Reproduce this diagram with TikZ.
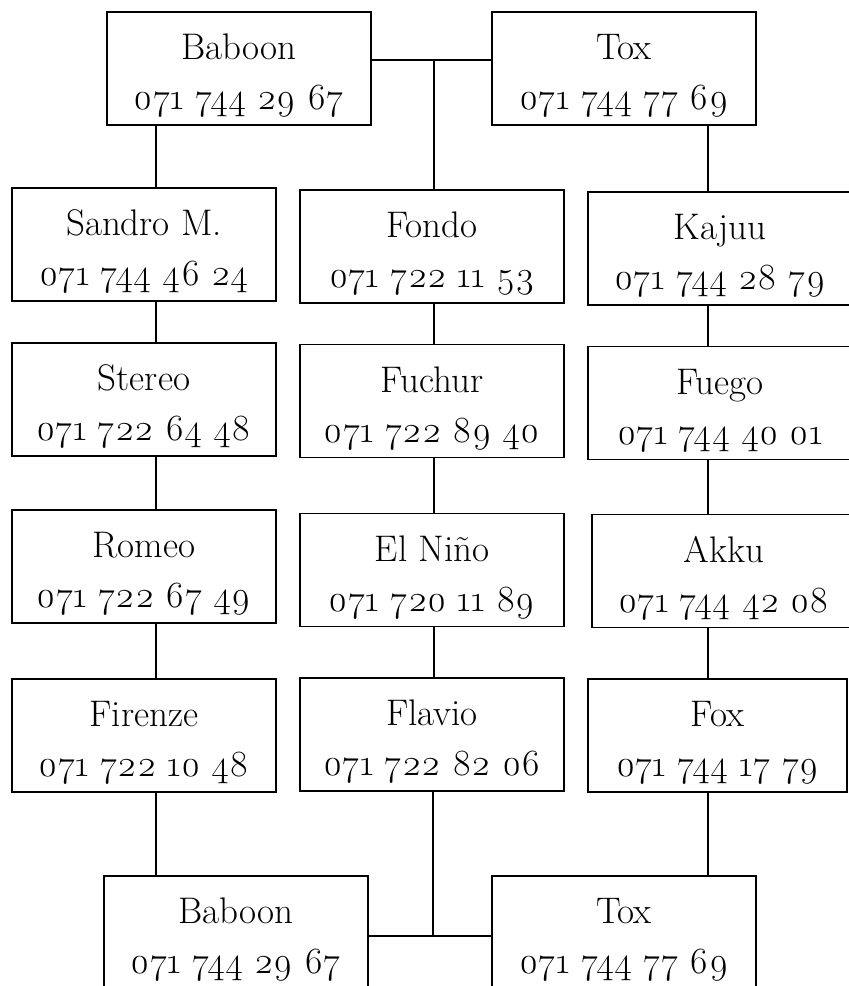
\documentclass[tikz,border=0pt]{standalone}
\usepackage{fontspec}
\setmainfont{Latin Modern Roman}[Numbers=OldStyle]
\newcommand{\phoneentry}[2]{\rule{0pt}{20pt}#1\\#2}
\tikzset{
  phonebox/.style={draw, line width=0.6pt, minimum width=132pt, minimum height=56.5pt,
    inner sep=0pt, align=center, font=\fontsize{18.5}{25}\selectfont},
  wire/.style={line width=0.6pt}
}
\begin{document}
\begin{tikzpicture}[x=0.5pt, y=-0.5pt]
    \useasboundingbox (0,0) rectangle (848,986);
    % top pair
    \node[phonebox] (baboonTop) at (239,68.5) {\phoneentry{Baboon}{071 744 29 67}};
    \node[phonebox] (toxTop) at (624,68.5) {\phoneentry{Tox}{071 744 77 69}};
    % left column
    \node[phonebox] (sandro) at (144,244.5) {\phoneentry{Sandro M.}{071 744 46 24}};
    \node[phonebox] (stereo) at (144,399.5) {\phoneentry{Stereo}{071 722 64 48}};
    \node[phonebox] (romeo) at (144,566.5) {\phoneentry{Romeo}{071 722 67 49}};
    \node[phonebox] (firenze) at (144,735.5) {\phoneentry{Firenze}{071 722 10 48}};
    % middle column
    \node[phonebox] (fondo) at (432,246.5) {\phoneentry{Fondo}{071 722 11 53}};
    \node[phonebox] (fuchur) at (432,401) {\phoneentry{Fuchur}{071 722 89 40}};
    \node[phonebox] (nino) at (432,570) {\phoneentry{El Niño}{071 720 11 89}};
    \node[phonebox] (flavio) at (432,734.5) {\phoneentry{Flavio}{071 722 82 06}};
    % right column
    \node[phonebox] (kajuu) at (720,248.5) {\phoneentry{Kajuu}{071 744 28 79}};
    \node[phonebox] (fuego) at (720,403) {\phoneentry{Fuego}{071 744 40 01}};
    \node[phonebox] (akku) at (724,571) {\phoneentry{Akku}{071 744 42 08}};
    \node[phonebox, minimum width=129.5pt] (fox) at (717.5,735.5) {\phoneentry{Fox}{071 744 17 79}};
    % bottom pair
    \node[phonebox] (baboonBot) at (236,932.5) {\phoneentry{Baboon}{071 744 29 67}};
    \node[phonebox] (toxBot) at (624,932.5) {\phoneentry{Tox}{071 744 77 69}};

    \coordinate (colL) at (156,0);
    \coordinate (colM) at (434,0);
    \coordinate (colR) at (708,0);
    \coordinate (hubTop) at (434,60);
    \coordinate (hubBot) at (433,936);

    \draw[wire] (baboonTop.east |- hubTop) -- (toxTop.west |- hubTop);
    \draw[wire] (hubTop) -- (hubTop |- fondo.north);
    \foreach \a/\b in {baboonTop/sandro, sandro/stereo, stereo/romeo, romeo/firenze, firenze/baboonBot}
        \draw[wire] (\a.south -| colL) -- (\b.north -| colL);
    \foreach \a/\b in {fondo/fuchur, fuchur/nino, nino/flavio}
        \draw[wire] (\a.south -| colM) -- (\b.north -| colM);
    \foreach \a/\b in {toxTop/kajuu, kajuu/fuego, fuego/akku, akku/fox, fox/toxBot}
        \draw[wire] (\a.south -| colR) -- (\b.north -| colR);
    \draw[wire] (flavio.south -| hubBot) -- (hubBot);
    \draw[wire] (baboonBot.east |- hubBot) -- (toxBot.west |- hubBot);
\end{tikzpicture}
\end{document}
